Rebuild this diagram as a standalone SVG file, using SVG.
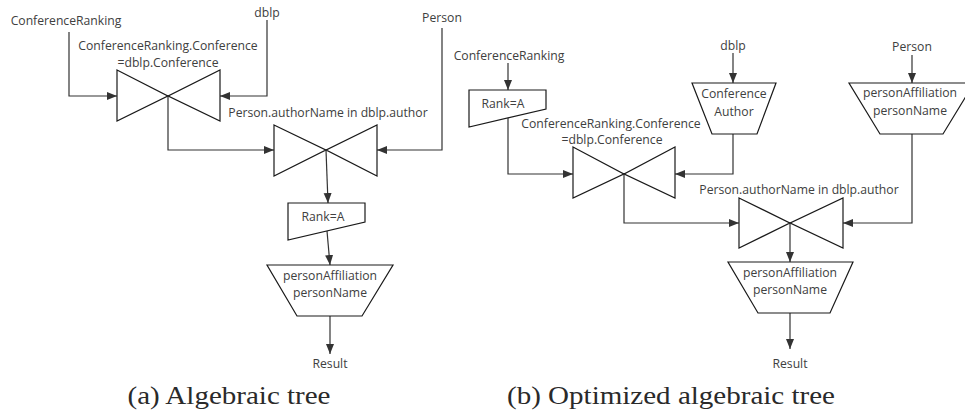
<svg xmlns="http://www.w3.org/2000/svg" width="965" height="412" viewBox="0 0 965 412">
<defs>
<marker id="arr" markerUnits="userSpaceOnUse" markerWidth="11" markerHeight="9" refX="10" refY="4" orient="auto">
<path d="M0,0 L10,4 L0,8 Z" fill="#333"/>
</marker>
<style>
.t{font-family:"Open Sans","Noto Sans",sans-serif;font-size:12.2px;fill:#404040;text-anchor:middle;dominant-baseline:central}
.s{fill:#fff;stroke:#1a1a1a;stroke-width:1.2}
.c{fill:none;stroke:#333;stroke-width:1.2;marker-end:url(#arr)}
.cap{font-family:"Liberation Serif","DejaVu Serif",serif;font-size:25px;fill:#2a2a2a;text-anchor:middle}
</style>
</defs>
<rect width="965" height="412" fill="#fff"/>
<g id="connectors">
<path class="c" d="M69,32 V96 H117"/>
<path class="c" d="M267,20 V96 H220"/>
<path class="c" d="M168,96 V150 H274"/>
<path class="c" d="M442,28 V150 H377"/>
<path class="c" d="M326,150 L328,203"/>
<path class="c" d="M327,231 L330,265"/>
<path class="c" d="M330,316 V354"/>
<path class="c" d="M508,63 V90"/>
<path class="c" d="M508,118 V174 H573"/>
<path class="c" d="M733,53 V83"/>
<path class="c" d="M733,134 V174 H675"/>
<path class="c" d="M912,55 V83"/>
<path class="c" d="M912,134 V223 H843"/>
<path class="c" d="M624,174 V223 H739"/>
<path class="c" d="M790,223 V262"/>
<path class="c" d="M790,313 V349"/>
</g>
<g id="a_src_conf"><text class="t" x="66" y="20">ConferenceRanking</text></g>
<g id="a_src_dblp"><text class="t" x="267" y="12">dblp</text></g>
<g id="a_src_person"><text class="t" x="442" y="17">Person</text></g>
<g id="a_join1">
<polygon class="s" points="117,70 168,96 220,70 220,121 168,96 117,121"/>
<text class="t" x="168" y="45">ConferenceRanking.Conference</text>
<text class="t" x="168" y="62">=dblp.Conference</text>
</g>
<g id="a_join2">
<polygon class="s" points="274,125 326,150 377,125 377,176 326,150 274,176"/>
<text class="t" x="328" y="112">Person.authorName in  dblp.author</text>
</g>
<g id="a_select">
<polygon class="s" points="288,203 365,203 365,222 288,240"/>
<text class="t" x="323" y="216">Rank=A</text>
</g>
<g id="a_project">
<polygon class="s" points="267,265 393,265 362,316 297,316"/>
<text class="t" x="330" y="275">personAffiliation</text>
<text class="t" x="330" y="292">personName</text>
</g>
<g id="a_result"><text class="t" x="330" y="363">Result</text></g>
<g id="b_src_conf"><text class="t" x="509" y="55">ConferenceRanking</text></g>
<g id="b_select">
<polygon class="s" points="469,90 546,90 546,109 469,127"/>
<text class="t" x="503" y="103">Rank=A</text>
</g>
<g id="b_src_dblp"><text class="t" x="733" y="45">dblp</text></g>
<g id="b_proj_dblp">
<polygon class="s" points="692,83 776,83 757,134 712,134"/>
<text class="t" x="734" y="93">Conference</text>
<text class="t" x="734" y="111">Author</text>
</g>
<g id="b_src_person"><text class="t" x="912" y="46">Person</text></g>
<g id="b_proj_person">
<polygon class="s" points="849,83 974,83 943,134 880,134"/>
<text class="t" x="910" y="92">personAffiliation</text>
<text class="t" x="910" y="110">personName</text>
</g>
<g id="b_join1">
<polygon class="s" points="573,147 624,174 675,147 675,198 624,174 573,198"/>
<text class="t" x="611" y="123">ConferenceRanking.Conference</text>
<text class="t" x="612" y="139">=dblp.Conference</text>
</g>
<g id="b_join2">
<polygon class="s" points="739,198 790,223 843,198 843,248 790,223 739,248"/>
<text class="t" x="799" y="189">Person.authorName in dblp.author</text>
</g>
<g id="b_project">
<polygon class="s" points="728,262 853,262 830,313 758,313"/>
<text class="t" x="790" y="272">personAffiliation</text>
<text class="t" x="790" y="289">personName</text>
</g>
<g id="b_result"><text class="t" x="790" y="363">Result</text></g>
<g id="captions">
<text class="cap" x="229" y="404" textLength="203" lengthAdjust="spacingAndGlyphs">(a) Algebraic tree</text>
<text class="cap" x="671" y="404" textLength="328" lengthAdjust="spacingAndGlyphs">(b) Optimized algebraic tree</text>
</g>
</svg>
